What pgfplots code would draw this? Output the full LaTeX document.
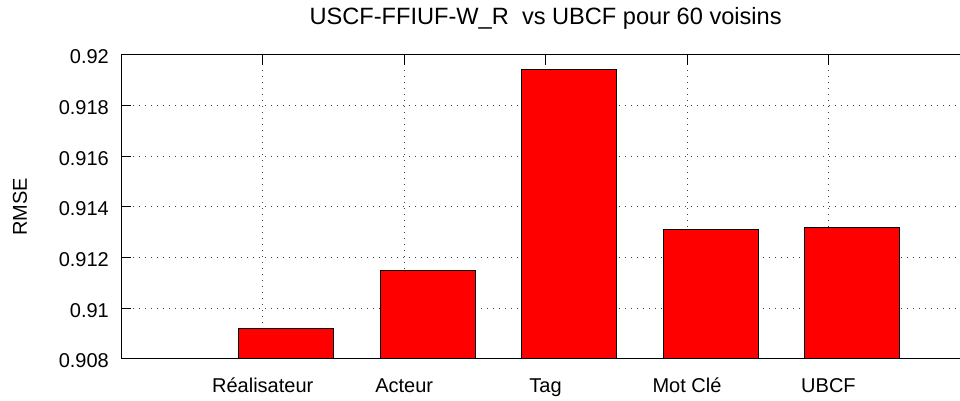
\documentclass[border=0pt]{standalone}
\usepackage{fontspec}
\setmainfont{Liberation Sans}
\usepackage{pgfplots}
\pgfplotsset{compat=1.18}
\begin{document}
\begin{tikzpicture}
\begin{axis}[
  scale only axis,
  width=419.35pt, height=152.15pt,
  xmin=-1, xmax=4.93,
  ymin=0.908, ymax=0.92,
  axis y line*=left,
  axis line style={line width=0.5pt},
  xtick={0,1,2,3,4},
  xticklabels={Réalisateur,Acteur,Tag,Mot Clé,UBCF},
  ytick={0.908,0.91,0.912,0.914,0.916,0.918,0.92},
  scaled y ticks=false,
  /pgf/number format/assume math mode=true,
  yticklabel style={/pgf/number format/fixed,/pgf/number format/precision=3, xshift=-2.7pt, yshift=-1pt},
  xticklabel style={anchor=base, yshift=-16.85pt},
  tick align=inside,
  xtick pos=both,
  major tick length=5pt,
  tick style={black, line width=0.5pt},
  grid=major,
  major grid style={black!75, line width=0.5pt, dash pattern=on 0.6pt off 2.4pt},
  ylabel={RMSE},
  ylabel style={at={(axis description cs:-0.1208,0.5)}, anchor=center},
  every axis title shift=0pt,
  title={USCF-FFIUF-W\_R\ \ vs UBCF pour 60 voisins},
  title style={at={(axis description cs:0.506,1.0976)}, anchor=base, font=\fontsize{11.8}{14}\selectfont},
  bar width=0.67,
]
\addplot[ybar, fill={rgb,255:red,255;green,0;blue,0}, draw=black, line width=0.5pt, mark=none]
  coordinates {(0.167,0.9092) (1.167,0.9115) (2.167,0.9194) (3.167,0.9131) (4.167,0.9132)};
\coordinate (SW) at (rel axis cs:0,0);
\coordinate (NE) at (rel axis cs:1,1);
\end{axis}
\pgfresetboundingbox
\useasboundingbox ([xshift=-60.65pt,yshift=-21pt]SW) rectangle ([yshift=27.35pt]NE);
\end{tikzpicture}
\end{document}
